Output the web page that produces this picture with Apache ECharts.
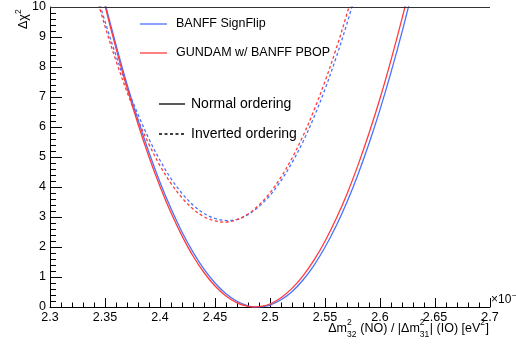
<!DOCTYPE html>
<html><head><meta charset="utf-8">
<script src="https://cdn.jsdelivr.net/npm/echarts@6/dist/echarts.min.js"></script>
<style>html,body{margin:0;padding:0;background:#fff}#c{width:516px;height:345px}</style>
</head><body><div id="c"></div>
<script>
// ---- data ----
const xTickLabels = ['2.3','2.35','2.4','2.45','2.5','2.55','2.6','2.65','2.7'];
const yTickLabels = ['0','1','2','3','4','5','6','7','8','9','10'];

const noBanfX = [2.34,2.35,2.36,2.37,2.38,2.39,2.40,2.41,2.42,2.43,2.44,2.45,2.46,2.47,2.48,2.489,2.50,2.51,2.52,2.53,2.54,2.55,2.56,2.57,2.58,2.59,2.60,2.61,2.62,2.63];
const noBanfY = [11.66,10.14,8.74,7.43,6.24,5.15,4.16,3.28,2.50,1.83,1.26,0.80,0.44,0.19,0.04,0,0.065,0.24,0.51,0.90,1.39,1.99,2.69,3.50,4.42,5.45,6.58,7.82,9.16,10.62];

const noGundamX = [2.34,2.35,2.36,2.37,2.38,2.39,2.40,2.41,2.42,2.43,2.44,2.45,2.46,2.47,2.48,2.486,2.49,2.50,2.51,2.52,2.53,2.54,2.55,2.56,2.57,2.58,2.59,2.60,2.61,2.62,2.63];
const noGundamY = [11.57,10.04,8.62,7.31,6.10,5.00,4.02,3.14,2.37,1.70,1.15,0.70,0.37,0.14,0.02,0,0.01,0.10,0.31,0.62,1.04,1.56,2.19,2.93,3.77,4.73,5.79,6.95,8.23,9.61,11.09];

const ioBanfX = [2.34,2.35,2.36,2.37,2.38,2.39,2.40,2.41,2.42,2.43,2.44,2.45,2.461,2.47,2.48,2.49,2.50,2.51,2.52,2.53,2.54,2.55,2.56,2.57,2.58];
const ioBanfY = [10.77,9.52,8.38,7.34,6.42,5.60,4.89,4.28,3.79,3.40,3.12,2.95,2.88,2.92,3.08,3.35,3.72,4.21,4.81,5.51,6.33,7.26,8.30,9.45,10.71];

const ioGundamX = [2.34,2.35,2.36,2.37,2.38,2.39,2.40,2.41,2.42,2.43,2.44,2.45,2.458,2.47,2.48,2.49,2.50,2.51,2.52,2.53,2.54,2.55,2.56,2.57,2.58];
const ioGundamY = [10.63,9.36,8.21,7.17,6.24,5.42,4.71,4.12,3.64,3.27,3.01,2.87,2.83,2.91,3.10,3.40,3.81,4.33,4.96,5.70,6.56,7.52,8.59,9.78,11.08];

const legendSamples = ['BANFF SignFlip','GUNDAM w/ BANFF PBOP'];
const legendOrdering = ['Normal ordering','Inverted ordering'];

// ---- chart ----
const FONT = '"Liberation Sans", Arial, Helvetica, sans-serif';
const BLUE = '#4a72ff', RED = '#ff3b3b';
const zip = (xs, ys) => xs.map((x, i) => [x, ys[i]]);
const chart = echarts.init(document.getElementById('c'), null, {renderer: 'canvas'});

const G = {l: 50, r: 490, t: 7, b: 307};

function line(name, xs, ys, color, dashed) {
  return {
    type: 'line', name, data: zip(xs, ys), smooth: 0.35, symbol: 'none', clip: true,
    lineStyle: {color, width: 1.3, type: dashed ? [3, 2.5] : 'solid'}, z: 3
  };
}

const mctx = document.createElement('canvas').getContext('2d');
function tw(t, size) { mctx.font = size + 'px ' + FONT; return mctx.measureText(t).width; }

const xTitle = [['\u0394m','n'],['2|32','s'],[' (NO) / |\u0394m','n'],['2|31','s'],['| (IO) [eV','n'],['2','u'],[']','n']];
const TS = 12.5, SS = 8.5;
let widths = xTitle.map(([t,k]) => k === 'n' ? tw(t, TS) : Math.max(...t.split('|').map(s => tw(s, SS))) + 0.5);
let total = widths.reduce((a,b)=>a+b,0);
let cx = 489 - total;
const mainTop = 322.5, supTop = 318.5, subTop = 330.5;
const titleEls = [];
xTitle.forEach(([t,k], i) => {
  if (k === 'n') {
    titleEls.push({type:'text', left: cx, top: mainTop, style:{text: t, font: TS + 'px ' + FONT, fill:'#000'}});
  } else if (k === 's') {
    const [a, b] = t.split('|');
    titleEls.push({type:'text', left: cx, top: supTop, style:{text: a, font: SS + 'px ' + FONT, fill:'#000'}});
    titleEls.push({type:'text', left: cx, top: subTop, style:{text: b, font: SS + 'px ' + FONT, fill:'#000'}});
  } else {
    titleEls.push({type:'text', left: cx, top: supTop, style:{text: t, font: SS + 'px ' + FONT, fill:'#000'}});
  }
  cx += widths[i];
});

const graphics = [
  ...titleEls,
  // top frame line
  {type:'line', shape:{x1:G.l, y1:G.t + 0.5, x2:G.r, y2:G.t + 0.5}, style:{stroke:'#333', lineWidth:1}, z: 5},
  // y title
  {type:'text', x: 14, y: 29, rotation: Math.PI/2,
   style:{text:'{n|\u0394\u03c7}{u|2}', rich:{n:{fontSize:12.5, fontFamily:FONT, lineHeight:16, verticalAlign:'bottom'}, u:{fontSize:8.5, fontFamily:FONT, lineHeight:16, verticalAlign:'top'}}, fill:'#000'}},
  // x exponent
  {type:'text', x: 491, y: 294, style:{text:'\u00d710', font: '12px ' + FONT, fill:'#000'}},
  {type:'text', x: 512, y: 291, style:{text:'\u22123', font: '8.5px ' + FONT, fill:'#000'}},
  // legend 1
  {type:'line', shape:{x1:140, y1:24, x2:167, y2:24}, style:{stroke: BLUE, lineWidth: 1.3}},
  {type:'text', x: 176, y: 24, style:{text: legendSamples[0], font:'12.5px ' + FONT, fill:'#000', verticalAlign:'middle'}},
  {type:'line', shape:{x1:140, y1:53, x2:167, y2:53}, style:{stroke: RED, lineWidth: 1.3}},
  {type:'text', x: 176, y: 53, style:{text: legendSamples[1], font:'12.5px ' + FONT, fill:'#000', verticalAlign:'middle'}},
  // legend 2
  {type:'line', shape:{x1:159, y1:104, x2:185, y2:104}, style:{stroke:'#000', lineWidth: 1.3}},
  {type:'text', x: 191, y: 104, style:{text: legendOrdering[0], font:'14px ' + FONT, fill:'#000', verticalAlign:'middle'}},
  {type:'line', shape:{x1:159, y1:134, x2:185, y2:134}, style:{stroke:'#000', lineWidth: 1.3, lineDash:[3,2.5]}},
  {type:'text', x: 191, y: 134, style:{text: legendOrdering[1], font:'14px ' + FONT, fill:'#000', verticalAlign:'middle'}}
];

chart.setOption({
  animation: false,
  backgroundColor: '#fff',
  grid: {left: G.l, right: 516 - G.r, top: G.t, bottom: 345 - G.b, show: false},
  xAxis: {
    type: 'value', min: 2.3, max: 2.7, interval: 0.05,
    axisLine: {show: true, onZero: false, lineStyle: {color: '#000', width: 1}},
    axisTick: {show: true, inside: true, length: 9, lineStyle: {color: '#000'}},
    minorTick: {show: true, splitNumber: 5, length: 4.5, lineStyle: {color: '#000'}},
    splitLine: {show: false},
    axisLabel: {color: '#000', fontFamily: FONT, fontSize: 12.5, margin: 4,
      formatter: v => xTickLabels[Math.round((v - 2.3) / 0.05)] ?? ''}
  },
  yAxis: {
    type: 'value', min: 0, max: 10, interval: 1,
    axisLine: {show: true, onZero: false, lineStyle: {color: '#000', width: 1}},
    axisTick: {show: true, inside: true, length: 12, lineStyle: {color: '#000'}},
    minorTick: {show: true, splitNumber: 5, length: 6, lineStyle: {color: '#000'}},
    splitLine: {show: false},
    axisLabel: {color: '#000', fontFamily: FONT, fontSize: 12.5, margin: 4,
      formatter: v => yTickLabels[Math.round(v)] ?? ''}
  },
  series: [
    line('IO BANFF', ioBanfX, ioBanfY, BLUE, true),
    line('IO GUNDAM', ioGundamX, ioGundamY, RED, true),
    line('NO BANFF', noBanfX, noBanfY, BLUE, false),
    line('NO GUNDAM', noGundamX, noGundamY, RED, false)
  ],
  graphic: graphics
});
</script></body></html>
